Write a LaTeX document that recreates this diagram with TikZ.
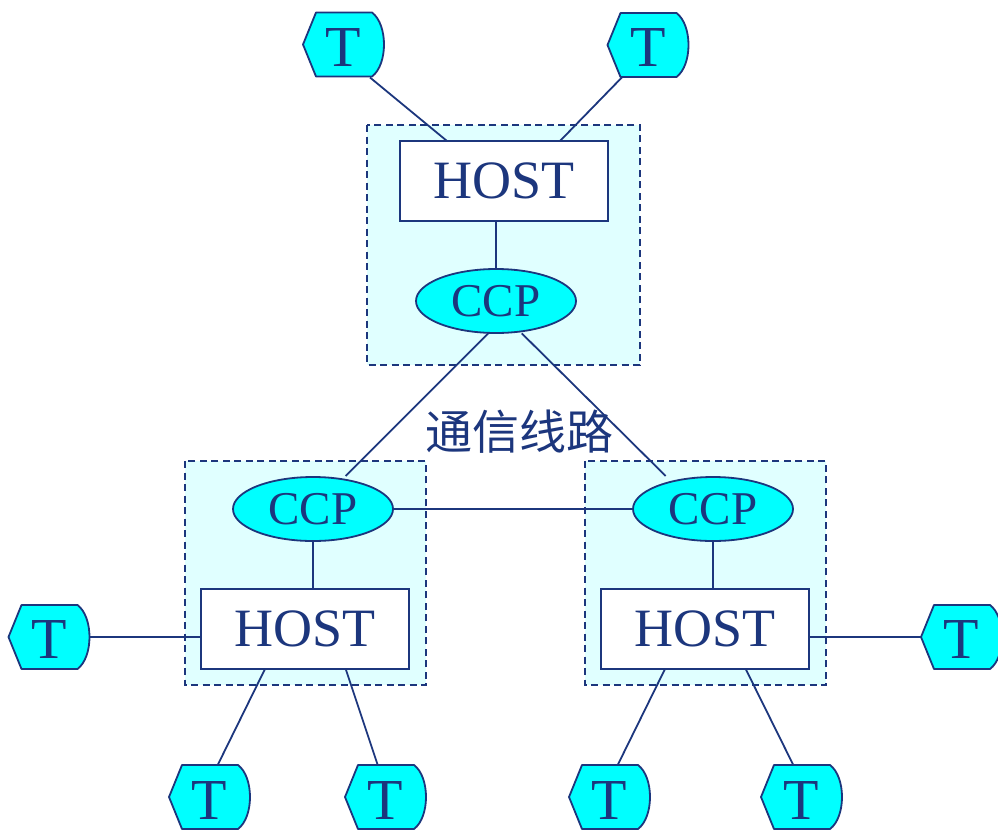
\documentclass[tikz,border=0pt]{standalone}
\usepackage{fontspec}
\setmainfont{Liberation Serif}
\newfontfamily\cjk{Noto Sans CJK SC}
\usetikzlibrary{shapes.geometric}
\definecolor{navy}{RGB}{28,54,125}
\definecolor{ccpcyan}{RGB}{0,255,255}
\definecolor{boxfill}{RGB}{224,255,255}
\pgfdeclarelayer{back}
\pgfdeclarelayer{mid}
\pgfdeclarelayer{tsh}
\pgfsetlayers{back,mid,tsh,main}
\begin{document}
\begin{tikzpicture}[x=1pt,y=-1pt,
  conn/.style={draw=navy,line width=1.8pt},
  dashbox/.style={draw=navy,line width=1.8pt,dash pattern=on 7pt off 4.5pt,fill=boxfill},
  hostbox/.style={draw=navy,fill=white,line width=1.8pt,minimum width=208pt,minimum height=80pt,inner sep=0pt,text=navy,font=\fontsize{54}{54}\selectfont},
  ccpnode/.style={ellipse,draw=navy,fill=ccpcyan,line width=1.8pt,minimum width=160pt,minimum height=64pt,inner sep=0pt,text=navy,font=\fontsize{47}{47}\selectfont},
  term/.style={minimum width=81pt,minimum height=62pt,inner sep=0pt,text=navy,font=\fontsize{58}{58}\selectfont},
  tshape/.style={draw=navy,fill=ccpcyan,line width=1.8pt,line join=round},
  lbl/.style={text=navy,inner sep=0pt,font=\cjk\fontsize{47}{47}\selectfont}
]
\useasboundingbox (0,0) rectangle (998,830);

% hosts
\node[hostbox] (h1) at (504,181) {HOST};
\node[hostbox] (h2) at (305,629) {HOST};
\node[hostbox] (h3) at (705,629) {HOST};
% ccps
\node[ccpnode] (c1) at (496,301) {CCP};
\node[ccpnode] (c2) at (313,509) {CCP};
\node[ccpnode] (c3) at (713,509) {CCP};
% terminals
\node[term] (tA) at (343.5,44.5) {\raisebox{-3pt}[\height][0pt]{T}};
\node[term] (tB) at (648,45) {\raisebox{-3pt}[\height][0pt]{T}};
\node[term] (tC) at (49,637) {\raisebox{-3pt}[\height][0pt]{T}};
\node[term] (tD) at (961.5,637) {\raisebox{-3pt}[\height][0pt]{T}};
\node[term] (tE) at (209.5,797) {\raisebox{-3pt}[\height][0pt]{T}};
\node[term] (tF) at (385.5,797) {\raisebox{-3pt}[\height][0pt]{T}};
\node[term] (tG) at (609.5,797) {\raisebox{-3pt}[\height][0pt]{T}};
\node[term] (tH) at (801.5,797) {\raisebox{-3pt}[\height][0pt]{T}};
% label
\node[lbl] (line) at (519,432) {通信线路};

\begin{pgfonlayer}{back}
  \draw[dashbox] (367,125) rectangle (640,365);
  \draw[dashbox] (185,461) rectangle (426,685);
  \draw[dashbox] (585,461) rectangle (826,685);
\end{pgfonlayer}

\begin{pgfonlayer}{tsh}
  \foreach \n in {tA,tB,tC,tD,tE,tF,tG,tH}{
    \begin{scope}[shift={(\n.center)}]
      \draw[tshape] (-40.5,0) -- (-27.5,-32) -- (28.5,-32) .. controls (44.5,-20) and (44.5,20) .. (28.5,32) -- (-27.5,32) -- cycle;
    \end{scope}
  }
\end{pgfonlayer}

\begin{pgfonlayer}{mid}
  \draw[conn] ([xshift=26.5pt,yshift=-33pt]tA.center) -- ([xshift=-57pt,yshift=40pt]h1.center);
  \draw[conn] ([xshift=-25.7pt,yshift=-32pt]tB.center) -- ([xshift=56pt,yshift=40pt]h1.center);
  \draw[conn] (h1.south -| c1.north) -- (c1.north);
  \draw[conn] ([xshift=-7.7pt,yshift=-32.3pt]c1.center) -- ([xshift=32.7pt,yshift=33pt]c2.center);
  \draw[conn] ([xshift=25.7pt,yshift=-32.3pt]c1.center) -- ([xshift=-47.3pt,yshift=33pt]c3.center);
  \draw[conn] (c2.east) -- (c3.west);
  \draw[conn] (c2.south) -- (c2.south |- h2.north);
  \draw[conn] (c3.south) -- (c3.south |- h3.north);
  \draw[conn] (tC.center) -- (tC.center -| h2.west);
  \draw[conn] (tD.center -| h3.east) -- (tD.center);
  \draw[conn] ([xshift=-40pt,yshift=-40pt]h2.center) -- ([xshift=8.2pt,yshift=32pt]tE.center);
  \draw[conn] ([xshift=40.7pt,yshift=-40pt]h2.center) -- ([xshift=-7.8pt,yshift=32pt]tF.center);
  \draw[conn] ([xshift=-40pt,yshift=-40pt]h3.center) -- ([xshift=8.2pt,yshift=32pt]tG.center);
  \draw[conn] ([xshift=40.7pt,yshift=-40pt]h3.center) -- ([xshift=-8.2pt,yshift=32pt]tH.center);
\end{pgfonlayer}
\end{tikzpicture}
\end{document}
